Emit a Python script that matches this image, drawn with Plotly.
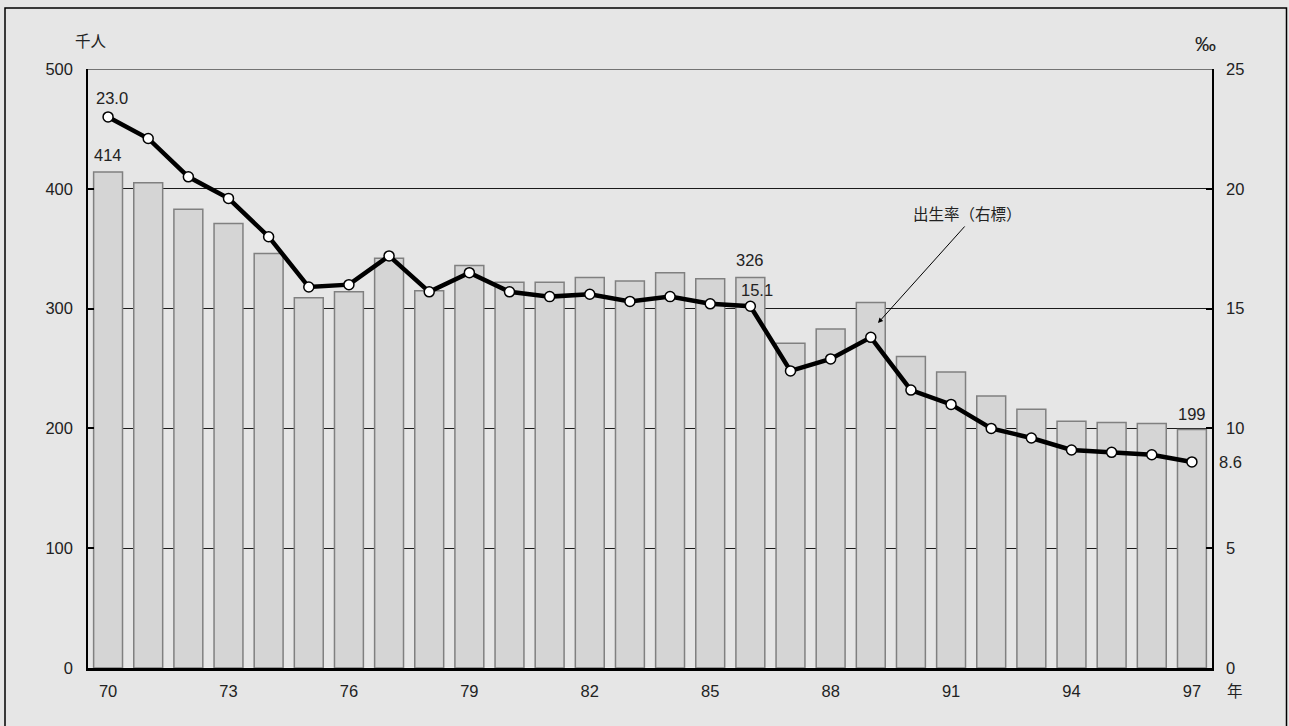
import plotly.graph_objects as go

years = list(range(1970, 1998))
births = [414, 405, 383, 371, 346, 309, 314, 342, 315, 336, 322, 322, 326, 323, 330,
          325, 326, 271, 283, 305, 260, 247, 227, 216, 206, 205, 204, 199]
rate = [23.0, 22.1, 20.5, 19.6, 18.0, 15.9, 16.0, 17.2, 15.7, 16.5, 15.7, 15.5, 15.6, 15.3, 15.5,
        15.2, 15.1, 12.4, 12.9, 13.8, 11.6, 11.0, 10.0, 9.6, 9.1, 9.0, 8.9, 8.6]
tick_years = [1970, 1973, 1976, 1979, 1982, 1985, 1988, 1991, 1994, 1997]
tick_text = ["70", "73", "76", "79", "82", "85", "88", "91", "94", "97"]

FONT = "Liberation Sans, Noto Sans CJK JP, sans-serif"
JP = "Noto Sans CJK JP"
TXT = "#222222"
FS = 16.5

fig = go.Figure()
fig.add_trace(go.Bar(
    x=years, y=births, width=0.72,
    marker=dict(color="#d5d5d5", line=dict(color="#808080", width=1.5)),
    yaxis="y", hoverinfo="x+y", showlegend=False))
fig.add_trace(go.Scatter(
    x=years, y=rate, mode="lines+markers", yaxis="y2",
    line=dict(color="#000000", width=4.5),
    marker=dict(size=10, color="#ffffff", line=dict(color="#000000", width=1.5)),
    showlegend=False))

fig.update_layout(
    width=1289, height=726,
    margin=dict(l=88, r=77, t=69, b=58),
    paper_bgcolor="#e6e6e6", plot_bgcolor="#e6e6e6",
    font=dict(family=FONT, size=FS, color=TXT),
    xaxis=dict(range=[1969.5, 1997.5], tickmode="array", tickvals=tick_years, ticktext=tick_text,
               showgrid=False, zeroline=False, showline=True, linecolor="#000000", linewidth=2.5,
               ticks="", ticklabelstandoff=6),
    yaxis=dict(range=[0, 500], tickvals=[0, 100, 200, 300, 400, 500], showgrid=True,
               gridcolor="#1a1a1a", gridwidth=1, zeroline=False, showline=True,
               linecolor="#000000", linewidth=1.5, ticks="inside", ticklen=6, tickwidth=1.5,
               tickcolor="#000000", ticklabelstandoff=10),
    yaxis2=dict(range=[0, 25], tickvals=[0, 5, 10, 15, 20, 25], overlaying="y", side="right",
                showgrid=False, zeroline=False, showline=True, linecolor="#000000", linewidth=1.5,
                ticks="inside", ticklen=6, tickwidth=1.5, tickcolor="#000000",
                ticklabelstandoff=9),
    bargap=0.28,
)

# outer frame and top line
fig.add_shape(type="rect", xref="paper", yref="paper",
              x0=(5 - 88) / 1124, x1=(1286.5 - 88) / 1124,
              y0=(668 - 740) / 599, y1=(668 - 8) / 599,
              line=dict(color="#000000", width=1.5), layer="below")
fig.add_shape(type="line", xref="paper", yref="y", x0=0, x1=1, y0=500, y1=500,
              line=dict(color="#000000", width=1.2), layer="below")

ann = [
    dict(x=1970, y=23.0, yref="y2", text="23.0", yshift=19, xshift=4),
    dict(x=1970, y=414, yref="y", text="414", yshift=17),
    dict(x=1986, y=326, yref="y", text="326", yshift=17),
    dict(x=1986, y=15.1, yref="y2", text="15.1", yshift=16, xshift=7),
    dict(x=1997, y=199, yref="y", text="199", yshift=16),
    dict(x=1997, y=8.6, yref="y2", text="8.6", xshift=39),
]
for a in ann:
    fig.add_annotation(xref="x", showarrow=False, xanchor="center", yanchor="middle",
                       font=dict(size=FS, color=TXT), **a)

fig.add_annotation(x=1991.41, y=380, xref="x", yref="y", text="出生率（右標）", showarrow=False,
                   xanchor="center", yanchor="middle",
                   font=dict(size=15.5, color=TXT, family=JP))
fig.add_annotation(x=1989.18, y=288, xref="x", yref="y", text="", showarrow=True,
                   ax=88, ay=-98, arrowhead=2, arrowsize=1, arrowwidth=1, arrowcolor="#000000")

side_labels = [
    ("千人", 91, 40, 15.5, JP),
    ("‰", 1205, 44, 21, FONT),
    ("年", 1235, 690, 15.5, JP),
]
for txt, px, py, sz, fam in side_labels:
    fig.add_annotation(x=(px - 88) / 1124, y=(668 - py) / 599, xref="paper", yref="paper",
                       text=txt, showarrow=False, xanchor="center", yanchor="middle",
                       font=dict(size=sz, color=TXT, family=fam))

fig.write_html("out.html", config={"displayModeBar": False},
               post_script="document.body.style.margin='0';document.body.style.overflow='hidden';")
